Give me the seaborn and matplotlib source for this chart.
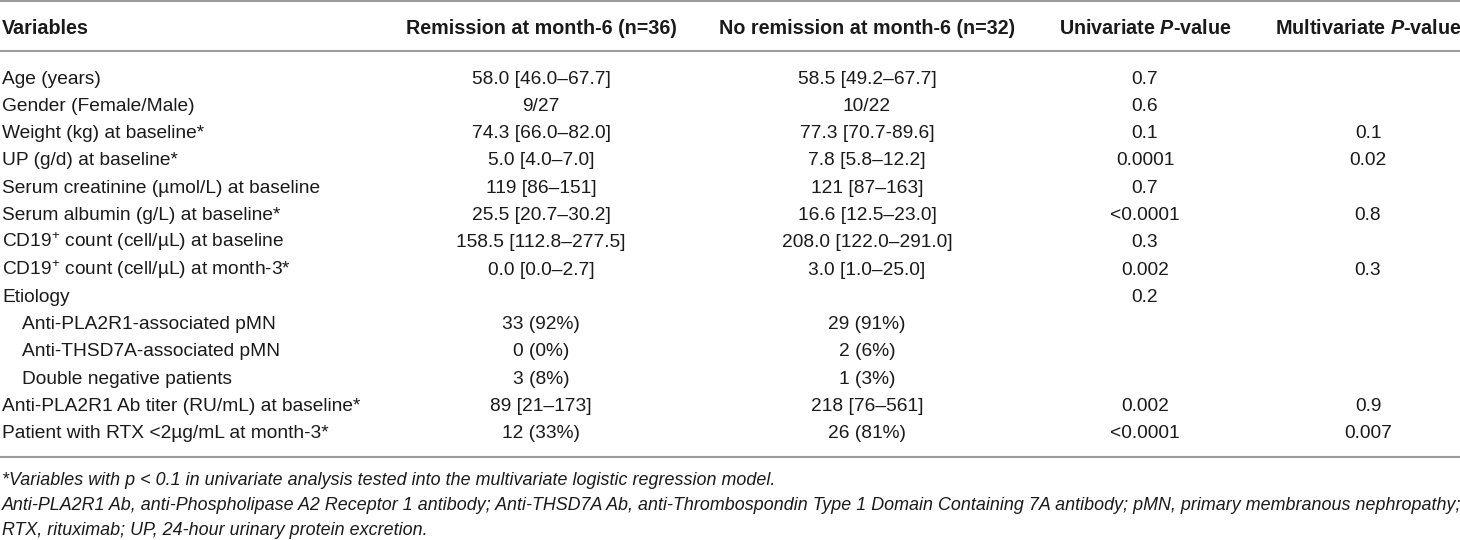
import numpy as np
import matplotlib
matplotlib.use("Agg")
import matplotlib.pyplot as plt
import seaborn as sns

# table content
headers = ["Variables", "Remission at month-6 (n=36)", "No remission at month-6 (n=32)",
           r"Univariate $\bfit{P}$-value", r"Multivariate $\bfit{P}$-value"]

variables = ["Age (years)", "Gender (Female/Male)", "Weight (kg) at baseline*",
             "UP (g/d) at baseline*", "Serum creatinine (µmol/L) at baseline",
             "Serum albumin (g/L) at baseline*", "CD19$^{+}$ count (cell/µL) at baseline",
             "CD19$^{+}$ count (cell/µL) at month-3*", "Etiology",
             "Anti-PLA2R1-associated pMN", "Anti-THSD7A-associated pMN",
             "Double negative patients", "Anti-PLA2R1 Ab titer (RU/mL) at baseline*",
             "Patient with RTX <2µg/mL at month-3*"]
remission = ["58.0 [46.0–67.7]", "9/27", "74.3 [66.0–82.0]", "5.0 [4.0–7.0]",
             "119 [86–151]", "25.5 [20.7–30.2]", "158.5 [112.8–277.5]", "0.0 [0.0–2.7]",
             "", "33 (92%)", "0 (0%)", "3 (8%)", "89 [21–173]", "12 (33%)"]
no_remission = ["58.5 [49.2–67.7]", "10/22", "77.3 [70.7-89.6]", "7.8 [5.8–12.2]",
                "121 [87–163]", "16.6 [12.5–23.0]", "208.0 [122.0–291.0]", "3.0 [1.0–25.0]",
                "", "29 (91%)", "2 (6%)", "1 (3%)", "218 [76–561]", "26 (81%)"]
univariate = ["0.7", "0.6", "0.1", "0.0001", "0.7", "<0.0001", "0.3", "0.002",
              "0.2", "", "", "", "0.002", "<0.0001"]
multivariate = ["", "", "0.1", "0.02", "", "0.8", "", "0.3",
                "", "", "", "", "0.9", "0.007"]
etiology_sub = ["Anti-PLA2R1-associated pMN", "Anti-THSD7A-associated pMN",
                "Double negative patients"]

footnotes = [
    "*Variables with p < 0.1 in univariate analysis tested into the multivariate logistic regression model.",
    "Anti-PLA2R1 Ab, anti-Phospholipase A2 Receptor 1 antibody; Anti-THSD7A Ab, anti-Thrombospondin Type 1 Domain Containing 7A antibody; pMN, primary membranous nephropathy;",
    "RTX, rituximab; UP, 24-hour urinary protein excretion.",
]

sns.set_theme(style="white")
plt.rcParams["font.family"] = ["Liberation Sans", "DejaVu Sans"]
plt.rcParams["mathtext.fontset"] = "custom"
plt.rcParams["mathtext.rm"] = "Liberation Sans"
plt.rcParams["mathtext.it"] = "Liberation Sans:italic"
plt.rcParams["mathtext.bf"] = "Liberation Sans:bold"
plt.rcParams["mathtext.bfit"] = "Liberation Sans:bold:italic"

fig = plt.figure(figsize=(14.6, 5.4), dpi=100)
ax = fig.add_axes([0, 0, 1, 1])
ax.set_xlim(0, 1460)
ax.set_ylim(540, 0)
ax.axis("off")

fs = 13.8
txt = "#1a1a1a"
rule = "#9c9c9c"
col_x = [2, 541, 867, 1145, 1368]

# rules
for y in [1, 51, 457]:
    ax.axhline(y, color=rule, lw=1.5)

# header
for i, h in enumerate(headers):
    ax.text(col_x[i], 33.5, h, fontsize=14.2, fontweight="bold", color=txt,
            ha="left" if i == 0 else "center", va="baseline")

# body rows
row_y = 83.5 + 27.3 * np.arange(len(variables))
for y, var, a, b, u, m in zip(row_y, variables, remission, no_remission, univariate, multivariate):
    x0 = 22 if var in etiology_sub else col_x[0]
    ax.text(x0, y, var, fontsize=fs, color=txt, ha="left", va="baseline")
    for x, val in zip(col_x[1:], [a, b, u, m]):
        if val:
            ax.text(x, y, val, fontsize=fs, color=txt, ha="center", va="baseline")

# footnotes
for y, note in zip([485, 510.5, 535], footnotes):
    ax.text(2, y, note, fontsize=12.9, style="italic", color=txt, ha="left", va="baseline")

fig.savefig("out.png", dpi=100)
